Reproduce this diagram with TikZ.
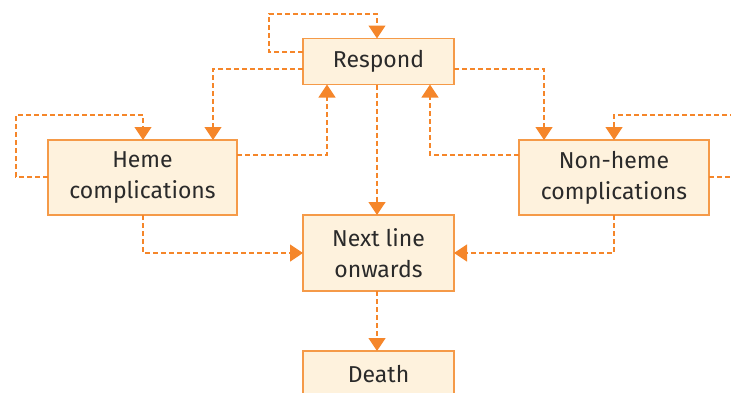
\documentclass[tikz,border=0pt]{standalone}
\usepackage{fontspec}
\setmainfont{Fira Sans}
\usetikzlibrary{arrows.meta}
\definecolor{boxfill}{HTML}{FEF2DD}
\definecolor{boxline}{HTML}{F59A48}
\definecolor{arr}{HTML}{F5862A}
\definecolor{txt}{HTML}{2A2A2A}
\begin{document}
\begin{tikzpicture}[x=1pt,y=-1pt,
  box/.style={draw=boxline, fill=boxfill, line width=1.3pt, inner sep=0pt, outer sep=0pt, text=txt,
    font=\fontsize{23}{31}\selectfont, align=center},
  conn/.style={draw=arr, line width=1.3pt, dash pattern=on 5pt off 3pt,
    -{Triangle[length=13pt,width=17pt]}}]
\useasboundingbox (0,0) rectangle (731,392);
\clip (0,0) rectangle (731,392);
\node[box, minimum width=151pt, minimum height=46pt] (R) at (378.5,61.5) {Respond};
\node[box, minimum width=189pt, minimum height=75pt] (H) at (142.5,177.5) {Heme\\complications};
\node[box, minimum width=190pt, minimum height=75pt] (NH) at (614,177.5) {Non-heme\\complications};
\node[box, minimum width=151pt, minimum height=76pt] (N) at (378.5,253) {Next line\\onwards};
\node[box, minimum width=151pt, minimum height=46pt] (D) at (378.5,374) {Death};
% Respond self loop
\draw[conn] ([yshift=9.5pt]R.west) -- ++(-34,0) |- ([xshift=-1.5pt,yshift=24.5pt]R.north) -- ([xshift=-1.5pt]R.north);
% Respond -> Heme
\draw[conn] ([yshift=-7.5pt]R.west) -| ([xshift=70.5pt]H.north);
% Heme self loop
\draw[conn] ([yshift=0.5pt]H.west) -- ++(-32,0) |- ([xshift=0.5pt,yshift=25pt]H.north) -- ([xshift=0.5pt]H.north);
% Heme -> Respond
\draw[conn] ([yshift=22.5pt]H.east) -| ([xshift=-51.5pt]R.south);
% Respond -> Next
\draw[conn] ([xshift=-1.5pt]R.south) -- ([xshift=-1.5pt]N.north);
% Respond -> Non-heme
\draw[conn] ([yshift=-7.5pt]R.east) -| ([xshift=-70pt]NH.north);
% Non-heme -> Respond
\draw[conn] ([yshift=22.5pt]NH.west) -| ([xshift=51.5pt]R.south);
% Non-heme self loop
\draw[conn] ([yshift=0.5pt]NH.east) -- ++(50,0) |- ([yshift=25pt]NH.north) -- (NH.north);
% Heme -> Next
\draw[conn] ([xshift=0.5pt]H.south) |- (N.west);
% Non-heme -> Next
\draw[conn] (NH.south) |- (N.east);
% Next -> Death
\draw[conn] ([xshift=-1.5pt]N.south) -- ([xshift=-1.5pt]D.north);
\end{tikzpicture}
\end{document}
